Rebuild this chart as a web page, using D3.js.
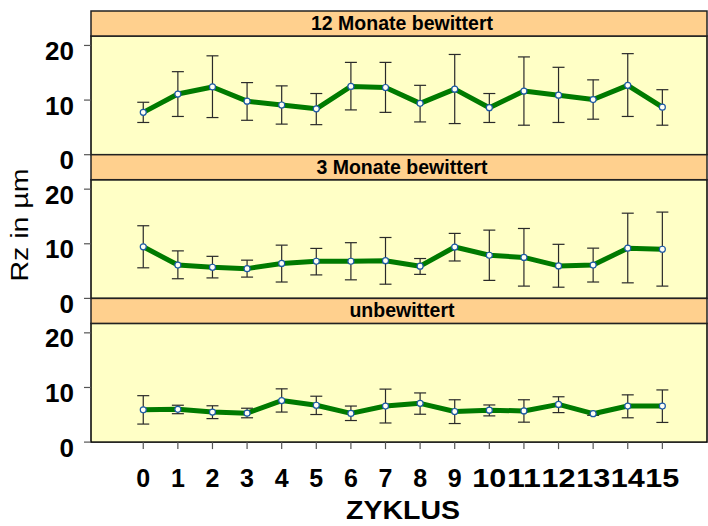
<!DOCTYPE html>
<meta charset="utf-8">
<style>
  body { margin: 0; background: #fff; }
  svg { display: block; font-family: "Liberation Sans", Arial, sans-serif; }
</style>
<script src="https://d3js.org/d3.v7.min.js"></script>
<div id="chart"></div>
<script>

// cycles on the x axis
var cycles = [0, 1, 2, 3, 4, 5, 6, 7, 8, 9, 10, 11, 12, 13, 14, 15];
var panelTitles = ["12 Monate bewittert", "3 Monate bewittert", "unbewittert"];
var yTicks = [0, 10, 20];

// 12 Monate bewittert
var m12 =   [7.75, 11.1, 12.4, 9.8, 9.1, 8.4, 12.5, 12.3, 9.4, 12.0, 8.6, 11.65, 10.9, 10.1, 12.7, 8.7];
var m12Lo = [5.9, 7.0, 6.8, 6.3, 5.6, 5.5, 8.2, 7.75, 6.0, 5.7, 5.9, 5.4, 5.9, 6.5, 7.0, 5.4];
var m12Hi = [9.6, 15.2, 18.1, 13.2, 12.6, 11.2, 16.9, 16.9, 12.7, 18.35, 11.2, 17.9, 16.0, 13.7, 18.5, 11.9];

// 3 Monate bewittert
var m3 =   [9.45, 6.1, 5.7, 5.45, 6.4, 6.8, 6.8, 6.9, 5.9, 9.4, 7.9, 7.5, 5.95, 6.1, 9.2, 9.0];
var m3Lo = [5.6, 3.6, 3.75, 3.9, 3.0, 4.3, 3.4, 2.6, 4.4, 6.85, 3.3, 2.25, 2.05, 3.0, 2.85, 2.25];
var m3Hi = [13.3, 8.7, 7.7, 7.0, 9.75, 9.15, 10.2, 11.15, 7.3, 11.9, 12.5, 12.8, 9.9, 9.2, 15.6, 15.8];

// unbewittert
var un =   [5.9, 6.0, 5.5, 5.3, 7.6, 6.75, 5.25, 6.6, 7.1, 5.6, 5.85, 5.7, 6.9, 5.2, 6.6, 6.6];
var unLo = [3.3, 5.2, 4.3, 4.45, 5.5, 5.05, 3.95, 3.5, 5.1, 3.4, 4.8, 3.65, 5.4, 4.9, 4.45, 3.6];
var unHi = [8.5, 6.75, 6.65, 6.2, 9.75, 8.4, 6.6, 9.7, 9.0, 7.75, 6.8, 7.75, 8.3, 5.4, 8.65, 9.55];

var series = [
  {title: panelTitles[0], mean: m12, lo: m12Lo, hi: m12Hi},
  {title: panelTitles[1], mean: m3, lo: m3Lo, hi: m3Hi},
  {title: panelTitles[2], mean: un, lo: unLo, hi: unHi}
];

var width = 708, height = 526;
var left = 91, right = 707, top0 = 11, panelH = 143.7, stripH = 25;

var svg = d3.select("#chart").append("svg")
  .attr("width", width)
  .attr("height", height);

var x = d3.scaleLinear().domain([-1.51, 16.29]).range([left, right]);

series.forEach(function(s, p) {
  var py = top0 + p * panelH;
  var plotTop = py + stripH, plotBot = py + panelH;
  var y = d3.scaleLinear().domain([0, 21.73]).range([plotBot, plotTop]);

  var g = svg.append("g");

  // plot background
  g.append("rect")
    .attr("x", left).attr("y", plotTop)
    .attr("width", right - left).attr("height", plotBot - plotTop)
    .attr("fill", "#ffffc6")
    .attr("stroke", "#000").attr("stroke-width", 1.5);

  // strip
  g.append("rect")
    .attr("x", left).attr("y", py)
    .attr("width", right - left).attr("height", stripH)
    .attr("fill", "#ffd08e")
    .attr("stroke", "#222").attr("stroke-width", 1.5);

  g.append("text")
    .attr("x", (left + right) / 2 + 3)
    .attr("y", py + 19)
    .attr("text-anchor", "middle")
    .style("font-size", "19.5px")
    .style("font-weight", "bold")
    .text(s.title);

  // y axis ticks + labels
  g.selectAll(".yt").data(yTicks).enter().append("line")
    .attr("x1", left - 7).attr("x2", left)
    .attr("y1", function(d) { return y(d); })
    .attr("y2", function(d) { return y(d); })
    .attr("stroke", "#555").attr("stroke-width", 1.2);

  g.selectAll(".yl").data(yTicks).enter().append("text")
    .attr("x", 74)
    .attr("y", function(d) { return y(d) + 14.5; })
    .attr("text-anchor", "end")
    .style("font-size", "26px")
    .style("font-weight", "bold")
    .text(function(d) { return d; });

  // error bars
  var eb = g.selectAll(".eb").data(cycles).enter().append("g")
    .attr("stroke", "#2a2a2a").attr("stroke-width", 1.2);
  eb.append("line")
    .attr("x1", function(d) { return x(d); })
    .attr("x2", function(d) { return x(d); })
    .attr("y1", function(d, i) { return y(s.lo[i]); })
    .attr("y2", function(d, i) { return y(s.hi[i]); });
  eb.append("line")
    .attr("x1", function(d) { return x(d) - 6; })
    .attr("x2", function(d) { return x(d) + 6; })
    .attr("y1", function(d, i) { return y(s.hi[i]); })
    .attr("y2", function(d, i) { return y(s.hi[i]); });
  eb.append("line")
    .attr("x1", function(d) { return x(d) - 6; })
    .attr("x2", function(d) { return x(d) + 6; })
    .attr("y1", function(d, i) { return y(s.lo[i]); })
    .attr("y2", function(d, i) { return y(s.lo[i]); });

  // mean line
  var line = d3.line()
    .x(function(d) { return x(d); })
    .y(function(d, i) { return y(s.mean[i]); });
  g.append("path")
    .datum(cycles)
    .attr("d", line)
    .attr("fill", "none")
    .attr("stroke", "#007a00")
    .attr("stroke-width", 5)
    .attr("stroke-linejoin", "round");

  g.selectAll(".pt").data(cycles).enter().append("circle")
    .attr("cx", function(d) { return x(d); })
    .attr("cy", function(d, i) { return y(s.mean[i]); })
    .attr("r", 3)
    .attr("fill", "#fffff4")
    .attr("stroke", "#1d5aa6")
    .attr("stroke-width", 1.2);

  // x axis on bottom panel
  if (p === series.length - 1) {
    g.selectAll(".xt").data(cycles).enter().append("line")
      .attr("x1", function(d) { return x(d); })
      .attr("x2", function(d) { return x(d); })
      .attr("y1", plotBot).attr("y2", plotBot + 7)
      .attr("stroke", "#555").attr("stroke-width", 1.2);
    var xl = g.selectAll(".xl").data(cycles).enter().append("text")
      .attr("x", function(d) { return x(d); })
      .attr("y", plotBot + 45)
      .attr("text-anchor", "middle")
      .style("font-size", "25px")
      .style("font-weight", "bold")
      .text(function(d) { return d; });
    // two-digit labels are stretched to touch each other in the original
    xl.filter(function(d) { return d >= 10; })
      .attr("x", function(d) { return x(d) - 17; })
      .attr("text-anchor", "start")
      .attr("textLength", 34)
      .attr("lengthAdjust", "spacingAndGlyphs");
  }
});

// axis titles
svg.append("text")
  .attr("x", 403)
  .attr("y", 519)
  .attr("text-anchor", "middle")
  .attr("textLength", 114)
  .attr("lengthAdjust", "spacingAndGlyphs")
  .style("font-size", "26px")
  .style("font-weight", "bold")
  .text("ZYKLUS");

svg.append("text")
  .attr("transform", "translate(28,225) rotate(-90)")
  .attr("text-anchor", "middle")
  .attr("textLength", 113)
  .attr("lengthAdjust", "spacingAndGlyphs")
  .style("font-size", "23px")
  .text("Rz in µm");

</script>
